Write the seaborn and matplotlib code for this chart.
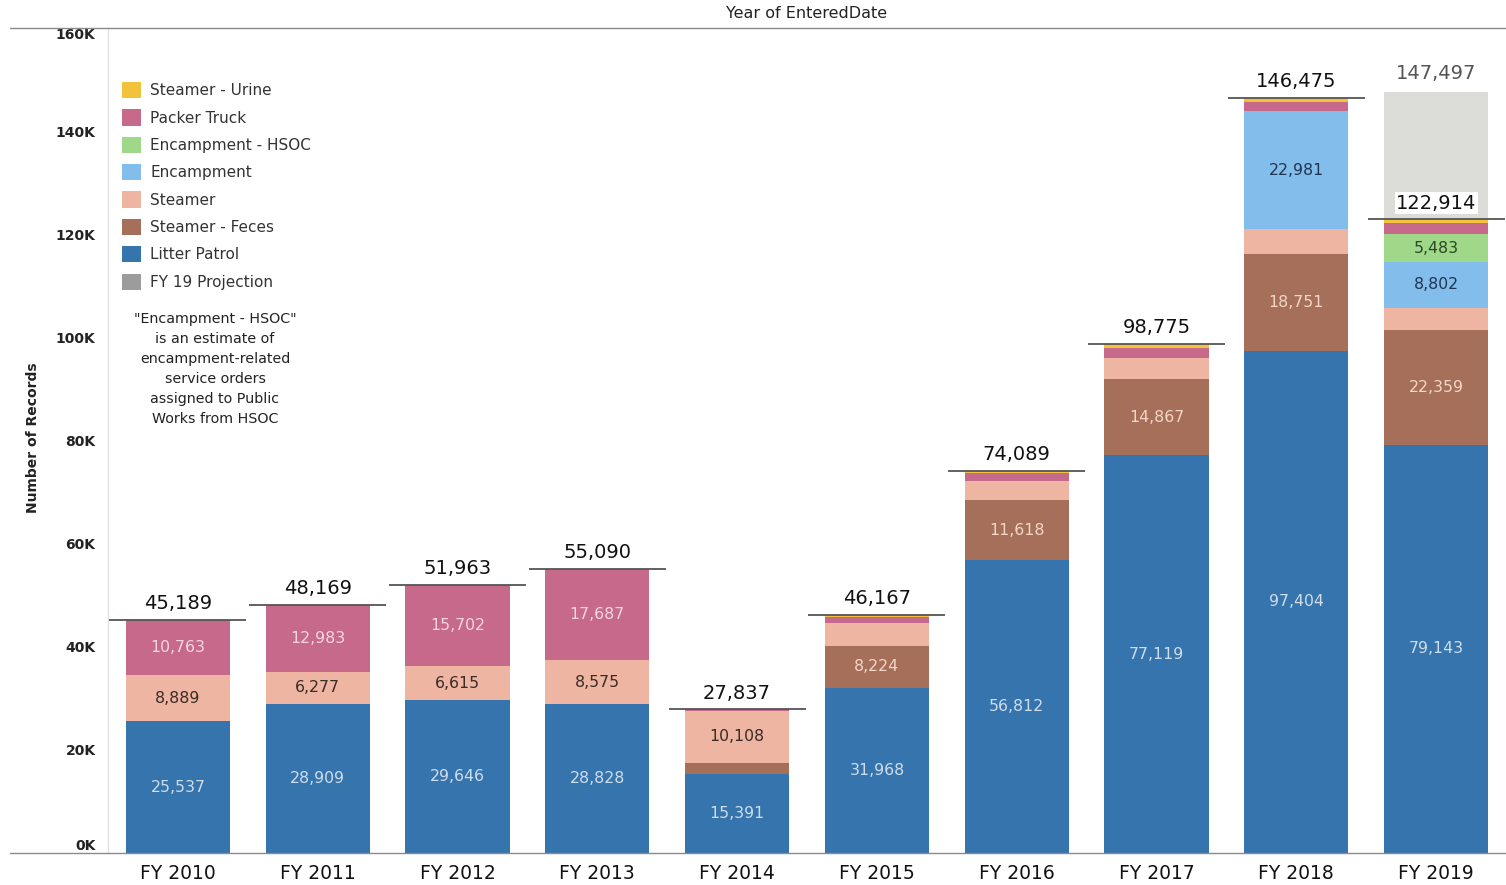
import numpy as np
import pandas as pd
import matplotlib
matplotlib.use("Agg")
import matplotlib.pyplot as plt
import seaborn as sns
from matplotlib.patches import Patch
from matplotlib.lines import Line2D
from matplotlib.ticker import FuncFormatter

# ---------------- data ----------------
years = ["FY 2010", "FY 2011", "FY 2012", "FY 2013", "FY 2014",
         "FY 2015", "FY 2016", "FY 2017", "FY 2018", "FY 2019"]
litter_patrol   = [25537, 28909, 29646, 28828, 15391, 31968, 56812, 77119, 97404, 79143]
steamer_feces   = [0, 0, 0, 0, 2100, 8224, 11618, 14867, 18751, 22359]
steamer         = [8889, 6277, 6615, 8575, 10108, 4425, 3759, 4089, 4789, 4277]
encampment      = [0, 0, 0, 0, 0, 0, 0, 0, 22981, 8802]
encampment_hsoc = [0, 0, 0, 0, 0, 0, 0, 0, 0, 5483]
packer_truck    = [10763, 12983, 15702, 17687, 238, 1200, 1550, 1950, 1700, 2050]
steamer_urine   = [0, 0, 0, 0, 0, 350, 350, 750, 850, 800]
fy19_projection = [0, 0, 0, 0, 0, 0, 0, 0, 0, 24583]
totals          = [45189, 48169, 51963, 55090, 27837, 46167, 74089, 98775, 146475, 122914]
projected_total = 147497
y_ticks = [0, 20000, 40000, 60000, 80000, 100000, 120000, 140000, 160000]

# bottom -> top
layer_names = ["Litter Patrol", "Steamer - Feces", "Steamer", "Encampment",
               "Encampment - HSOC", "Packer Truck", "Steamer - Urine", "FY 19 Projection"]
layer_values = [litter_patrol, steamer_feces, steamer, encampment,
                encampment_hsoc, packer_truck, steamer_urine, fy19_projection]
layer_colors = ["#3574ad", "#a66f5a", "#edb5a2", "#82bdec",
                "#a0d88a", "#c6698b", "#f2c23a", "#dcdcd8"]
legend_colors = dict(zip(layer_names, layer_colors))
legend_colors["FY 19 Projection"] = "#9c9c9c"
label_colors = {"Litter Patrol": "#cfdcea", "Steamer - Feces": "#f3d6c8",
                "Steamer": "#3b2b26", "Encampment": "#203650",
                "Encampment - HSOC": "#2c4824", "Packer Truck": "#f3d5e0"}

vals = np.array(layer_values)            # layers x years
cum = np.cumsum(vals, axis=0)

# ---------------- figure ----------------
sns.set_theme(style="white")
plt.rcParams["font.family"] = ["DejaVu Sans"]

fig = plt.figure(figsize=(15.06, 8.85), dpi=100)
W, H = 1506, 885
ax = fig.add_axes([108 / W, 1 - 853 / H, (1506 - 108) / W, (853 - 28) / H])

# stacked bars: draw cumulative heights from top layer down
for k in range(len(layer_names) - 1, -1, -1):
    sns.barplot(x=years, y=cum[k], order=years, color=layer_colors[k],
                saturation=1, width=0.745, errorbar=None, linewidth=0, ax=ax)

ax.set_ylim(0, 160000)
ax.set_xlim(-0.5, 9.5)

# segment labels
for k, name in enumerate(layer_names):
    if name == "FY 19 Projection":
        continue
    for i in range(len(years)):
        v = vals[k, i]
        if v >= 5000:
            yc = cum[k, i] - v / 2
            ax.text(i, yc, f"{v:,}", ha="center", va="center",
                    fontsize=11.3, color=label_colors[name])

# totals with lines
for i, t in enumerate(totals):
    ax.hlines(t, i - 0.49, i + 0.49, color="#555555", lw=1.3, zorder=5)
    kw = {}
    if i == len(years) - 1:
        kw["bbox"] = dict(facecolor="white", edgecolor="none", pad=1.0)
    ax.text(i, t + 1300, f"{t:,}", ha="center", va="bottom", fontsize=14,
            color="#111111", zorder=6, **kw)
ax.text(len(years) - 1, projected_total + 1900, f"{projected_total:,}",
        ha="center", va="bottom", fontsize=14, color="#555555")

# axes styling
ax.set_xlabel("")
ax.set_ylabel("")
ax.set_yticks(y_ticks)
ax.yaxis.set_major_formatter(FuncFormatter(lambda v, p: f"{int(v/1000)}K"))
ax.tick_params(axis="y", length=0, pad=9, labelsize=10, labelcolor="#222222")
ax.tick_params(axis="x", length=0, pad=8, labelsize=13.5, labelcolor="#111111")
ylabs = ax.get_yticklabels()
for lab in ylabs:
    lab.set_fontweight("bold")
ylabs[0].set_verticalalignment("bottom")
ylabs[-1].set_verticalalignment("top")
for s in ["top", "right", "bottom"]:
    ax.spines[s].set_visible(False)
ax.spines["left"].set_color("#e2e2e2")
ax.spines["left"].set_linewidth(1.0)
ax.grid(False)

# figure-level lines: header rule and baseline
fig.add_artist(Line2D([10 / W, 1.0], [1 - 28 / H, 1 - 28 / H], color="#8a8a8a", lw=1.0))
fig.add_artist(Line2D([10 / W, 1.0], [1 - 853 / H, 1 - 853 / H], color="#8a8a8a", lw=1.0))

fig.text(807 / W, 1 - 14 / H, "Year of EnteredDate", ha="center", va="center",
         fontsize=11.5, color="#222222")
fig.text(33 / W, 1 - 438 / H, "Number of Records", ha="center", va="center",
         rotation=90, fontsize=10, fontweight="bold", color="#222222")

# legend (top to bottom)
leg_order = ["Steamer - Urine", "Packer Truck", "Encampment - HSOC", "Encampment",
             "Steamer", "Steamer - Feces", "Litter Patrol", "FY 19 Projection"]
handles = [Patch(facecolor=legend_colors[n], edgecolor="none") for n in leg_order]
leg = fig.legend(handles, leg_order, loc="upper left",
                 bbox_to_anchor=(122 / W, 1 - 82 / H), frameon=False,
                 fontsize=11, handlelength=1.25, handleheight=1.25,
                 handletextpad=0.6, labelspacing=0.73, borderpad=0, borderaxespad=0)
for t in leg.get_texts():
    t.set_color("#333333")

note = ('"Encampment - HSOC"\nis an estimate of\nencampment-related\n'
        'service orders\nassigned to Public\nWorks from HSOC')
fig.text(215 / W, 1 - 369 / H, note, ha="center", va="center", fontsize=10.3,
         color="#222222", linespacing=1.55)

fig.savefig("out.png", dpi=100)
